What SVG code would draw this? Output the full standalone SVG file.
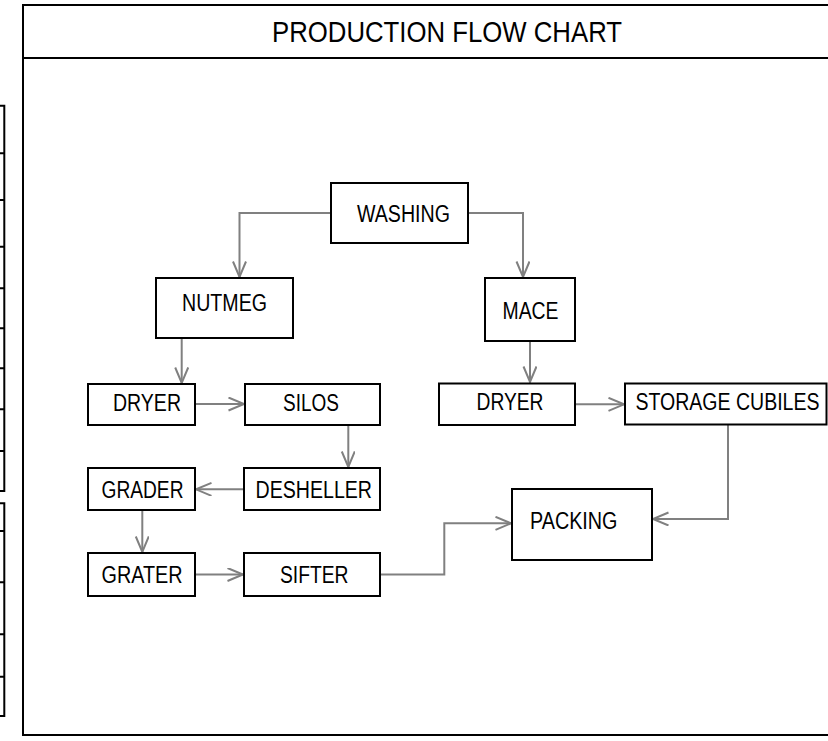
<svg xmlns="http://www.w3.org/2000/svg" width="828" height="741" viewBox="0 0 828 741">
<style>
.box{fill:#fff;stroke:#000;stroke-width:2}
.frame{fill:none;stroke:#000;stroke-width:2}
.lbl{font-family:"Liberation Sans Narrow","Liberation Sans",Arial,sans-serif;font-size:23px;fill:#000}
.ttl{font-family:"Liberation Sans Narrow","Liberation Sans",Arial,sans-serif;font-size:29px;fill:#000}
.con{fill:none;stroke:#808080;stroke-width:2}
</style>
<defs>
<marker id="arr" markerUnits="userSpaceOnUse" markerWidth="20" markerHeight="16" refX="16" refY="7" orient="auto" viewBox="0 0 20 16">
<path d="M0.5,0.5 L16,7 L0.5,13.5" fill="none" stroke="#808080" stroke-width="2"/>
</marker>
</defs>
<rect width="828" height="741" fill="#fff"/>
<g id="side-table">
<path class="frame" d="M-2,105.7 H4.3 V491 H-2 M-2,153.3 H4.3 M-2,200 H4.3 M-2,246.7 H4.3 M-2,288.3 H4.3 M-2,328.3 H4.3 M-2,368.3 H4.3 M-2,409.3 H4.3 M-2,451 H4.3"/>
<path class="frame" d="M-2,503.3 H4.3 V716 H-2 M-2,531 H4.3 M-2,582.3 H4.3 M-2,634.3 H4.3 M-2,676.7 H4.3"/>
</g>
<g id="frame">
<rect class="frame" x="23" y="5" width="820" height="730"/>
<line x1="23" y1="58" x2="830" y2="58" stroke="#000" stroke-width="2"/>
<text class="ttl" x="272" y="42" textLength="350" lengthAdjust="spacingAndGlyphs">PRODUCTION FLOW CHART</text>
</g>
<g id="connectors">
<path class="con" marker-end="url(#arr)" d="M331,213 H239.5 V277"/>
<path class="con" marker-end="url(#arr)" d="M468,213 H523 V277"/>
<path class="con" marker-end="url(#arr)" d="M181.7,338 V383"/>
<path class="con" marker-end="url(#arr)" d="M195,404 H244"/>
<path class="con" marker-end="url(#arr)" d="M348.3,425 V467"/>
<path class="con" marker-end="url(#arr)" d="M244,489.3 H196"/>
<path class="con" marker-end="url(#arr)" d="M142.3,510 V552"/>
<path class="con" marker-end="url(#arr)" d="M195,574.5 H243"/>
<path class="con" marker-end="url(#arr)" d="M380,574.5 H444.3 V523.3 H511"/>
<path class="con" marker-end="url(#arr)" d="M530,341 V382"/>
<path class="con" marker-end="url(#arr)" d="M575,404.3 H624"/>
<path class="con" marker-end="url(#arr)" d="M728,425 V519 H653"/>
</g>
<g id="washing"><rect class="box" x="331" y="183" width="137" height="60"/><text class="lbl" x="357" y="221.7" textLength="93" lengthAdjust="spacingAndGlyphs">WASHING</text></g>
<g id="nutmeg"><rect class="box" x="156" y="278" width="137" height="60"/><text class="lbl" x="182" y="310.7" textLength="85" lengthAdjust="spacingAndGlyphs">NUTMEG</text></g>
<g id="mace"><rect class="box" x="485" y="278" width="90" height="63"/><text class="lbl" x="502.5" y="319" textLength="56" lengthAdjust="spacingAndGlyphs">MACE</text></g>
<g id="dryer1"><rect class="box" x="88" y="384" width="107" height="41"/><text class="lbl" x="113" y="410.7" textLength="68" lengthAdjust="spacingAndGlyphs">DRYER</text></g>
<g id="silos"><rect class="box" x="245" y="384" width="135" height="41"/><text class="lbl" x="283" y="410.7" textLength="56" lengthAdjust="spacingAndGlyphs">SILOS</text></g>
<g id="dryer2"><rect class="box" x="439" y="383.5" width="136" height="41.5"/><text class="lbl" x="476.5" y="410.3" textLength="67" lengthAdjust="spacingAndGlyphs">DRYER</text></g>
<g id="storage"><rect class="box" x="625" y="383.5" width="201.5" height="41"/><text class="lbl" x="635.5" y="410.3" textLength="184" lengthAdjust="spacingAndGlyphs">STORAGE CUBILES</text></g>
<g id="desheller"><rect class="box" x="244" y="468" width="136" height="42"/><text class="lbl" x="255.5" y="497.7" textLength="116.5" lengthAdjust="spacingAndGlyphs">DESHELLER</text></g>
<g id="grader"><rect class="box" x="88" y="468" width="107" height="42"/><text class="lbl" x="101.5" y="497.7" textLength="82" lengthAdjust="spacingAndGlyphs">GRADER</text></g>
<g id="grater"><rect class="box" x="88" y="553" width="107" height="43"/><text class="lbl" x="101.5" y="582.7" textLength="81" lengthAdjust="spacingAndGlyphs">GRATER</text></g>
<g id="sifter"><rect class="box" x="244" y="553" width="136" height="43"/><text class="lbl" x="280" y="582.7" textLength="68.5" lengthAdjust="spacingAndGlyphs">SIFTER</text></g>
<g id="packing"><rect class="box" x="512" y="489" width="140" height="71"/><text class="lbl" x="530" y="529.3" textLength="87.5" lengthAdjust="spacingAndGlyphs">PACKING</text></g>
</svg>
